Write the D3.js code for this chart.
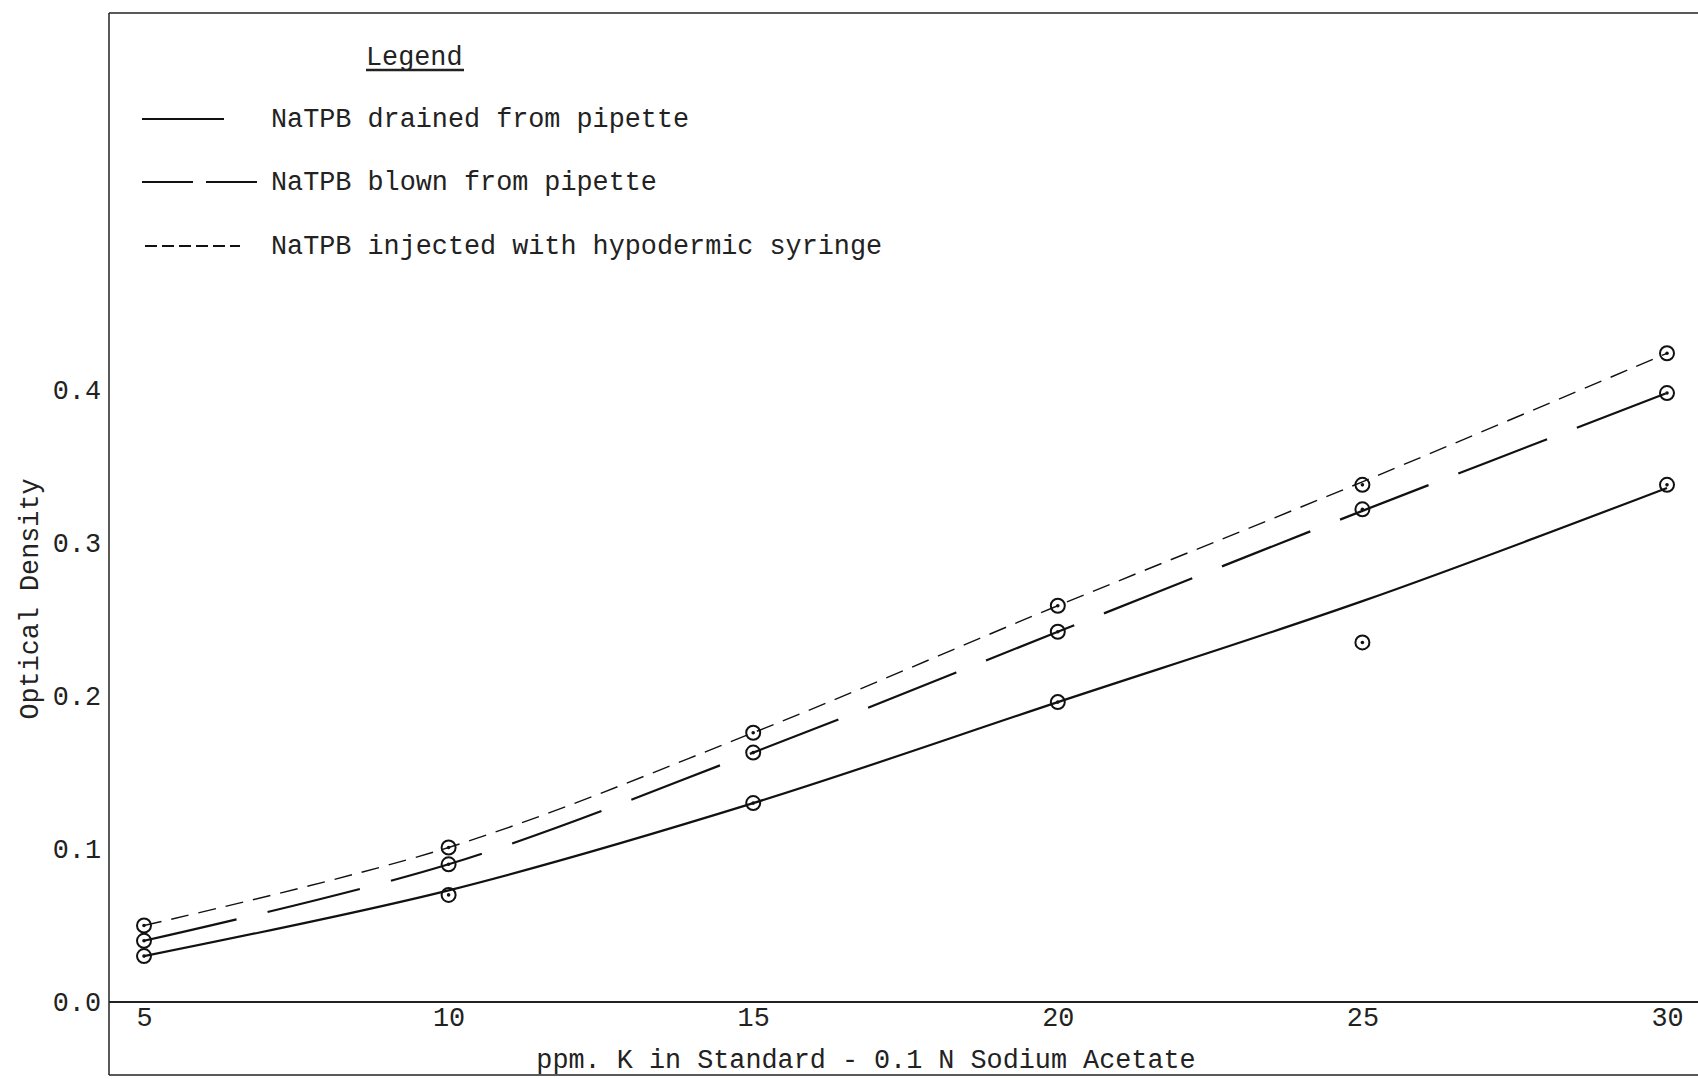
<!DOCTYPE html>
<html>
<head>
<meta charset="utf-8">
<script src="https://cdn.jsdelivr.net/npm/d3@7"></script>
<style>
  body { margin: 0; background: #fff; }
  svg { display: block; }
  text { font-family: "Liberation Mono", "DejaVu Sans Mono", monospace; fill: #222; }
</style>
</head>
<body>
<svg id="chart"></svg>
<script>
const width = 1698;
const height = 1079;

// measured points (ppm K vs optical density)
const ppm = [5, 10, 15, 20, 25, 30];
const drainedPts = [0.030, 0.070, 0.130, 0.196, 0.235, 0.338];
const blownPts = [0.040, 0.090, 0.163, 0.242, 0.322, 0.398];
const injectedPts = [0.050, 0.101, 0.176, 0.259, 0.338, 0.424];

// hand-drawn curves through the points
const drainedCurve = [0.030, 0.073, 0.130, 0.196, 0.262, 0.336];
const blownCurve = [0.040, 0.090, 0.163, 0.242, 0.321, 0.398];
const injectedCurve = [0.050, 0.101, 0.176, 0.259, 0.340, 0.424];

const xTicks = [5, 10, 15, 20, 25, 30];
const yTicks = [0.0, 0.1, 0.2, 0.3, 0.4];
const legendLabels = [
    "NaTPB drained from pipette",
    "NaTPB blown from pipette",
    "NaTPB injected with hypodermic syringe"
];

const frame = {left: 109, top: 13, bottom: 1075, axis: 1002};

const x = d3.scaleLinear([5, 30], [144, 1667]);
const y = d3.scaleLinear([0, 0.4], [frame.axis, 390]);

const svg = d3.select("#chart")
    .attr("width", width)
    .attr("height", height)
    .attr("viewBox", [0, 0, width, height]);

// frame lines
const frameG = svg.append("g").attr("stroke", "#222").attr("fill", "none");
frameG.append("line").attr("x1", frame.left).attr("x2", width).attr("y1", frame.top).attr("y2", frame.top).attr("stroke-width", 1.5);
frameG.append("line").attr("x1", frame.left).attr("x2", frame.left).attr("y1", frame.top).attr("y2", frame.bottom).attr("stroke-width", 1.5);
frameG.append("line").attr("x1", frame.left).attr("x2", width).attr("y1", frame.bottom).attr("y2", frame.bottom).attr("stroke-width", 1.5);
frameG.append("line").attr("x1", frame.left).attr("x2", width).attr("y1", frame.axis).attr("y2", frame.axis).attr("stroke-width", 2);

const fontSize = 26.8;

// axes
svg.append("g")
    .attr("transform", `translate(0,${frame.axis})`)
    .call(d3.axisBottom(x).tickValues(xTicks).tickSize(0).tickPadding(5))
    .call(g => g.select(".domain").remove())
    .call(g => g.selectAll("text").attr("font-size", fontSize).attr("font-family", null).attr("fill", "#222"));

svg.append("g")
    .attr("transform", `translate(${frame.left},0)`)
    .call(d3.axisLeft(y).tickValues(yTicks).tickSize(0).tickPadding(8).tickFormat(d3.format(".1f")))
    .call(g => g.select(".domain").remove())
    .call(g => g.selectAll("text").attr("font-size", fontSize).attr("font-family", null).attr("fill", "#222"));

// axis titles
svg.append("text")
    .attr("x", 866)
    .attr("y", 1068)
    .attr("text-anchor", "middle")
    .attr("font-size", fontSize)
    .text("ppm. K in Standard - 0.1 N Sodium Acetate");

svg.append("text")
    .attr("transform", "translate(38,599) rotate(-90)")
    .attr("text-anchor", "middle")
    .attr("font-size", fontSize)
    .text("Optical Density");

// series
const series = [
    {curve: drainedCurve, pts: drainedPts, dash: null, sample: null, width: 2.2},
    {curve: blownCurve, pts: blownPts, dash: "95,32", sample: "51,13", width: 2.2},
    {curve: injectedCurve, pts: injectedPts, dash: "18,10", sample: "12,5", width: 1.4}
];

const line = d3.line()
    .x((d, i) => x(ppm[i]))
    .y(d => y(d))
    .curve(d3.curveCatmullRom.alpha(0.5));

series.forEach(s => {
    svg.append("path")
        .datum(s.curve)
        .attr("fill", "none")
        .attr("stroke", "#111")
        .attr("stroke-width", s.width)
        .attr("stroke-dasharray", s.dash)
        .attr("d", line);

    const pg = svg.append("g");
    pg.selectAll("circle.ring")
        .data(s.pts)
        .join("circle")
        .attr("class", "ring")
        .attr("cx", (d, i) => x(ppm[i]))
        .attr("cy", d => y(d))
        .attr("r", 7)
        .attr("fill", "none")
        .attr("stroke", "#111")
        .attr("stroke-width", 2);
    pg.selectAll("circle.dot")
        .data(s.pts)
        .join("circle")
        .attr("class", "dot")
        .attr("cx", (d, i) => x(ppm[i]))
        .attr("cy", d => y(d))
        .attr("r", 1.8)
        .attr("fill", "#111");
});

// legend
const legend = svg.append("g");
legend.append("text")
    .attr("x", 366)
    .attr("y", 65)
    .attr("font-size", fontSize)
    .text("Legend");
legend.append("line")
    .attr("x1", 366).attr("x2", 464)
    .attr("y1", 70).attr("y2", 70)
    .attr("stroke", "#222").attr("stroke-width", 2.5);

const legendY = [119, 182, 246];
const sampleX = [[142, 224], [142, 257], [145, 240]];
legendLabels.forEach((label, i) => {
    legend.append("line")
        .attr("x1", sampleX[i][0]).attr("x2", sampleX[i][1])
        .attr("y1", legendY[i]).attr("y2", legendY[i])
        .attr("stroke", "#111")
        .attr("stroke-width", i === 2 ? 1.8 : 2)
        .attr("stroke-dasharray", series[i].sample);
    legend.append("text")
        .attr("x", 271)
        .attr("y", legendY[i] + 8)
        .attr("font-size", fontSize)
        .text(label);
});
</script>
</body>
</html>
